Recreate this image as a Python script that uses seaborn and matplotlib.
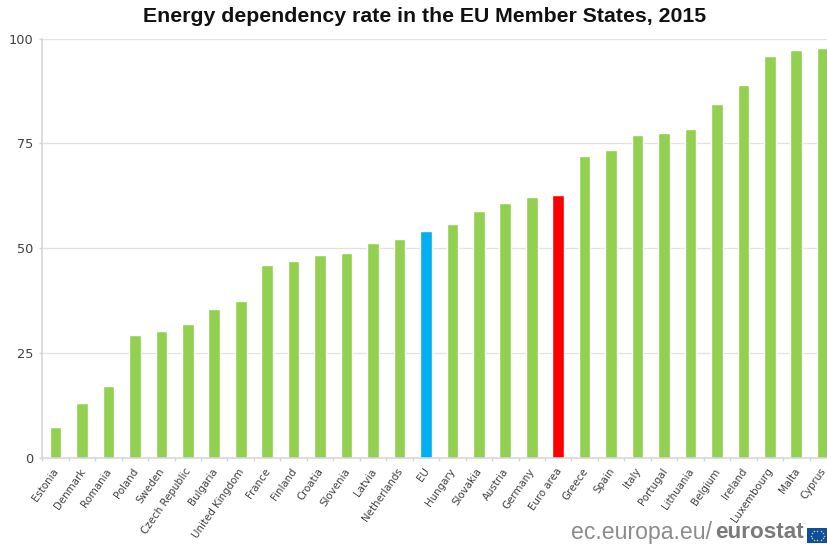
import numpy as np
import pandas as pd
import seaborn as sns
from matplotlib import pyplot as plt
from matplotlib.patches import Rectangle
from matplotlib.transforms import ScaledTranslation

countries = ['Estonia', 'Denmark', 'Romania', 'Poland', 'Sweden', 'Czech Republic', 'Bulgaria',
             'United Kingdom', 'France', 'Finland', 'Croatia', 'Slovenia', 'Latvia', 'Netherlands',
             'EU', 'Hungary', 'Slovakia', 'Austria', 'Germany', 'Euro area', 'Greece', 'Spain',
             'Italy', 'Portugal', 'Lithuania', 'Belgium', 'Ireland', 'Luxembourg', 'Malta', 'Cyprus']
rates = [7.4, 13.1, 17.1, 29.4, 30.2, 32.0, 35.5, 37.5, 46.1, 46.9, 48.4, 48.8, 51.2, 52.1, 54.2,
         55.8, 58.9, 60.9, 62.1, 62.6, 72.1, 73.5, 77.1, 77.5, 78.5, 84.5, 88.8, 95.9, 97.3, 97.7]
y_ticks = [0, 25, 50, 75, 100]

W, H = 828, 544
GREEN, BLUE, RED = '#92d050', '#00b0f0', '#ff0000'
GREY = '#d4d4d4'
TXT = '#404040'

sns.set_theme(style='white')
plt.rcParams['font.family'] = ['DejaVu Sans']

df = pd.DataFrame({'country': countries, 'rate': rates})
palette = {c: GREEN for c in countries}
palette['EU'] = BLUE
palette['Euro area'] = RED

fig = plt.figure(figsize=(W / 100, H / 100), dpi=100)
# plot area runs past the right edge of the image, Cyprus is cut off in the original
ax = fig.add_axes([42.3 / W, 1 - 458 / H, (836 - 42.3) / W, (458 - 38.5) / H])

sns.barplot(data=df, x='country', y='rate', hue='country', palette=palette, legend=False,
            width=0.44, saturation=1, ax=ax)

ax.set_xlim(-0.5, len(countries) - 0.5)
ax.set_ylim(0, 100)
ax.set_xlabel('')
ax.set_ylabel('')

ax.set_yticks(y_ticks)
ax.tick_params(axis='y', length=2.5, width=1, color=GREY, labelsize=9.3, labelcolor=TXT, pad=4, left=True)
ax.grid(axis='y', color='#e2e2e2', lw=0.9)
ax.set_axisbelow(True)

# ticks sit between the categories, labels are centred on them
ax.set_xticks(np.arange(len(countries) + 1) - 0.5, minor=True)
ax.tick_params(axis='x', which='minor', length=2.5, width=1, color=GREY, bottom=True)
ax.tick_params(axis='x', which='major', length=0, pad=6)
ax.set_xticks(range(len(countries)))
ax.set_xticklabels(countries, rotation=55, ha='right', va='top', rotation_mode='anchor',
                   fontsize=7.4, color=TXT)
shift = ScaledTranslation(-3 / 100, 0, fig.dpi_scale_trans)
for label in ax.get_xticklabels():
    label.set_transform(label.get_transform() + shift)

for pos in ['top', 'right']:
    ax.spines[pos].set_visible(False)
for pos in ['left', 'bottom']:
    ax.spines[pos].set_color(GREY)
    ax.spines[pos].set_linewidth(1.1)

fig.text(425 / W, 1 - 16 / H, 'Energy dependency rate in the EU Member States, 2015', ha='center', va='center',
         fontsize=15.3, fontweight='bold', color='#111111', family='Liberation Sans')

fig.text(571 / W, 1 - 538.5 / H, 'ec.europa.eu/', ha='left', va='baseline', fontsize=16.6, color='#8c8c8c',
         family='Liberation Sans')
fig.text(715 / W, 1 - 538.5 / H, 'eurostat', ha='left', va='baseline', fontsize=16.2, fontweight='bold',
         color='#7a7a7a', family='Liberation Sans')

# EU flag in the corner
flag = fig.add_axes([807 / W, 1 / H, 21 / W, 15 / H])
flag.add_patch(Rectangle((0, 0), 1, 1, color='#0b4ea2'))
angles = np.arange(12) * np.pi / 6
flag.scatter(0.5 + 0.3 * np.cos(angles), 0.5 + 0.33 * np.sin(angles), s=1.2, color='#e8d44d', lw=0)
flag.set_xlim(0, 1)
flag.set_ylim(0, 1)
flag.axis('off')

fig.savefig('out.png', dpi=100)
